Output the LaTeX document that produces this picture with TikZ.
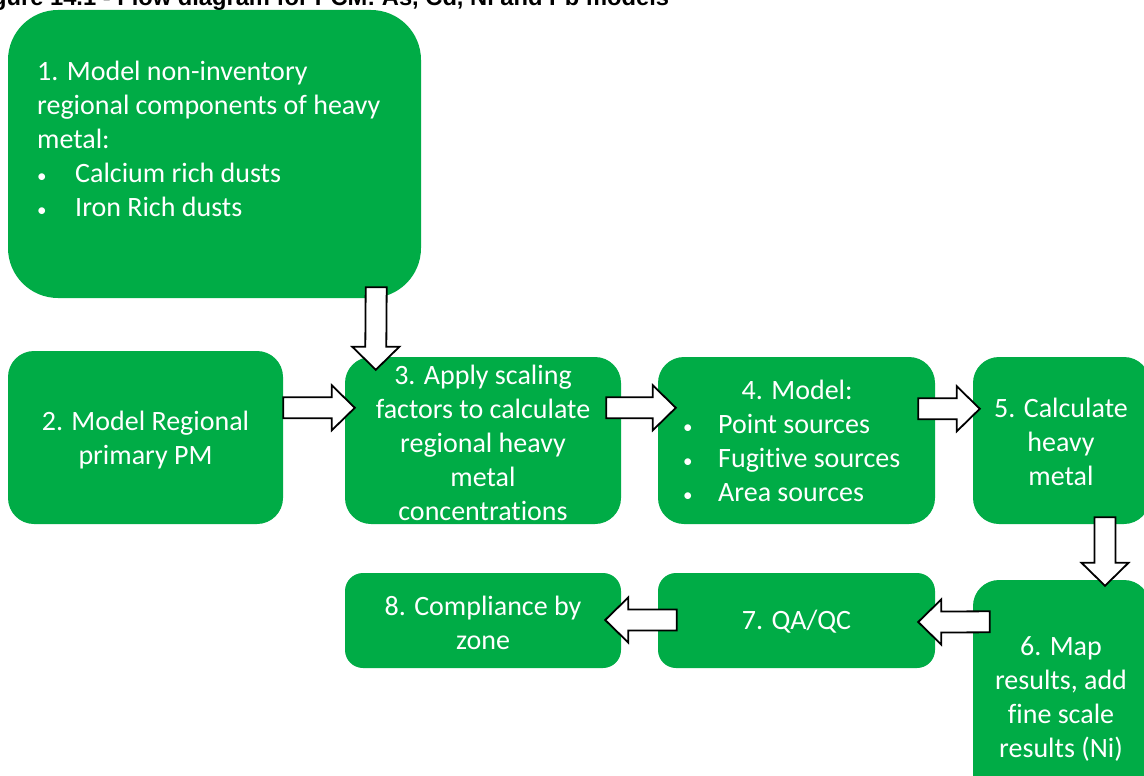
\documentclass[tikz,border=0pt]{standalone}
\usepackage{fontspec}
\setmainfont{Carlito}[Ligatures=NoCommon]
\newfontfamily\titlefont{Liberation Sans}
\usetikzlibrary{calc}
\definecolor{boxgreen}{RGB}{0,172,70}
\tikzset{
  box/.style={fill=boxgreen, draw=none, rectangle, inner sep=0pt},
  boxtext/.style={text=white, inner sep=0pt, font=\fontsize{28}{34}\selectfont},
  barrow/.style={draw=black, fill=white, line width=1.8pt, line join=miter}
}
\newcommand\bul{{\fontsize{19}{34}\selectfont •}}
\newcommand\BArrowD[2]{\draw[barrow] ($(#1)+(-10.5,0)$) -- ($(#2)+(-10.5,-23)$) -- ($(#2)+(-23.5,-23)$) -- (#2) -- ($(#2)+(23.5,-23)$) -- ($(#2)+(10.5,-23)$) -- ($(#1)+(10.5,0)$) -- cycle;}
\newcommand\BArrowR[2]{\draw[barrow] ($(#1)+(0,-10.5)$) -- ($(#2)+(-23,-10.5)$) -- ($(#2)+(-23,-22.5)$) -- (#2) -- ($(#2)+(-23,22.5)$) -- ($(#2)+(-23,10.5)$) -- ($(#1)+(0,10.5)$) -- cycle;}
\newcommand\BArrowL[2]{\draw[barrow] ($(#1)+(0,-10.5)$) -- ($(#2)+(23,-10.5)$) -- ($(#2)+(23,-22.5)$) -- (#2) -- ($(#2)+(23,22.5)$) -- ($(#2)+(23,10.5)$) -- ($(#1)+(0,10.5)$) -- cycle;}
\begin{document}
\begin{tikzpicture}[x=1pt,y=-1pt]
\useasboundingbox (0,0) rectangle (1144,776);
\fill[white] (0,0) rectangle (1144,776);
\clip (0,0) rectangle (1144,776);

% title (cut off at the top, as in the reference)
\node[anchor=base west, inner sep=0pt, font=\titlefont\bfseries\fontsize{23.7}{26}\selectfont] (title) at (-29.1,5.5) {Figure 14.1 - Flow diagram for PCM: As, Cd, Ni and Pb models};

% boxes
\node[box, minimum width=413pt, minimum height=288pt, rounded corners=50pt] (b1) at (214.5,154) {};
\node[box, minimum width=275pt, minimum height=173pt, rounded corners=26pt] (b2) at (145.5,437.5) {};
\node[box, minimum width=276pt, minimum height=167pt, rounded corners=26pt] (b3) at (483,440.5) {};
\node[box, minimum width=277pt, minimum height=167pt, rounded corners=26pt] (b4) at (796.5,440.5) {};
\node[box, minimum width=177pt, minimum height=167pt, rounded corners=26pt] (b5) at (1061.5,440.5) {};
\node[box, minimum width=177pt, minimum height=220pt, rounded corners=26pt] (b6) at (1061.5,690) {};
\node[box, minimum width=277pt, minimum height=95pt, rounded corners=18pt] (b7) at (796.5,620.5) {};
\node[box, minimum width=276pt, minimum height=95pt, rounded corners=18pt] (b8) at (483,620.5) {};

% texts
\node[boxtext, anchor=north west, align=left] (t1) at (37,61)
  {1. Model non-inventory\\
   regional components of heavy\\
   metal:\\
   \makebox[38pt][l]{\bul}Calcium rich dusts\\
   \makebox[38pt][l]{\bul}Iron Rich dusts};
\node[boxtext, align=center] (t2) at (145.5,440) {2. Model Regional\\primary PM};
\node[boxtext, align=center] (t3) at (483,443) {3. Apply scaling\\factors to calculate\\regional heavy\\metal\\concentrations};
\node[boxtext, anchor=north west, align=left] (t4) at (683,380)
  {\makebox[228pt][c]{4. Model:}\\
   \makebox[35pt][l]{\bul}Point sources\\
   \makebox[35pt][l]{\bul}Fugitive sources\\
   \makebox[35pt][l]{\bul}Area sources};
\node[boxtext, align=center] (t5) at (1061,442) {5. Calculate\\heavy\\metal};
\node[boxtext, align=center] (t6) at (1061,699) {6. Map\\results, add\\fine scale\\results (Ni)};
\node[boxtext, align=center] (t7) at (796.5,622) {7. QA/QC};
\node[boxtext, align=center] (t8) at (483,623) {8. Compliance by\\zone};

% arrow end points
\coordinate (a13s) at ($(b1.south east)+(-45,-11)$);
\coordinate (a13e) at ($(b3.north west)+(31,13)$);
\coordinate (a23s) at ($(b2.north east)+(0,57)$);
\coordinate (a23e) at ($(b3.north west)+(10,51)$);
\coordinate (a34s) at ($(b3.north east)+(-15,51)$);
\coordinate (a34e) at ($(b4.north west)+(18,51)$);
\coordinate (a45s) at ($(b4.north east)+(-17,52)$);
\coordinate (a45e) at ($(b5.north west)+(7,52)$);
\coordinate (a56s) at ($(b5.south)+(43.5,-7)$);
\coordinate (a56e) at ($(b6.north)+(43.5,6)$);
\coordinate (a67s) at ($(b6.north west)+(17,42)$);
\coordinate (a67e) at ($(b7.east)+(-17,1.5)$);
\coordinate (a78s) at ($(b7.west)+(19,-0.5)$);
\coordinate (a78e) at ($(b8.east)+(-16,-0.5)$);

\BArrowD{a13s}{a13e}
\BArrowR{a23s}{a23e}
\BArrowR{a34s}{a34e}
\BArrowR{a45s}{a45e}
\BArrowD{a56s}{a56e}
\BArrowL{a67s}{a67e}
\BArrowL{a78s}{a78e}
\end{tikzpicture}
\end{document}
